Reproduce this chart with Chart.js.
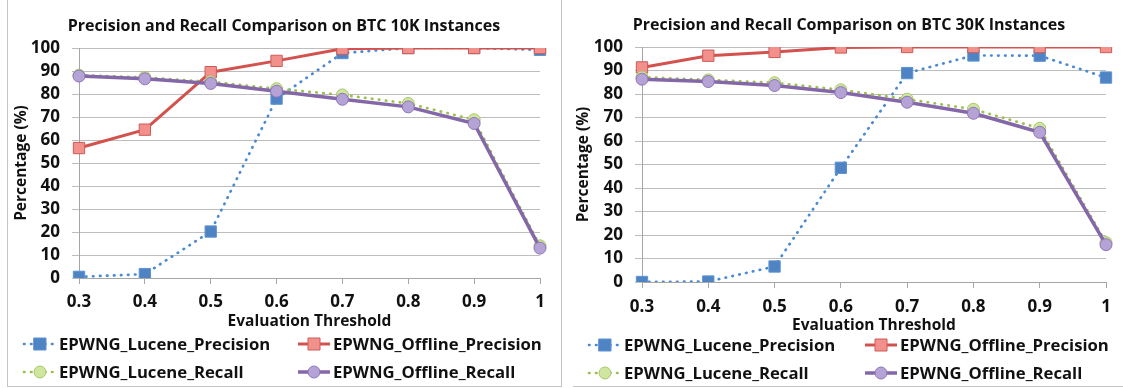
<!DOCTYPE html>
<html>
<head>
<meta charset="utf-8">
<script src="https://cdn.jsdelivr.net/npm/chart.js@4.4.1/dist/chart.umd.min.js"></script>
<style>
  body { margin: 0; background: #fff; }
  #wrap { position: relative; width: 1123px; height: 388px; overflow: hidden; }
  canvas { position: absolute; top: 0; }
  .ln { position: absolute; background: #c4c4c4; }
</style>
</head>
<body>
<div id="wrap">
  <div class="ln" style="left:7px;top:0;width:1px;height:387px"></div>
  <div class="ln" style="left:561px;top:0;width:1px;height:387px"></div>
  <div class="ln" style="left:7px;top:386px;width:555px;height:1px"></div>
  <div class="ln" style="left:573px;top:386px;width:550px;height:1px"></div>
  <canvas id="c10k" width="561" height="388" style="left:0"></canvas>
  <canvas id="c30k" width="562" height="388" style="left:561px"></canvas>
</div>
<script>
// thresholds on the x axis
const thresholds = ['0.3', '0.4', '0.5', '0.6', '0.7', '0.8', '0.9', '1'];
const seriesNames = ['EPWNG_Lucene_Precision', 'EPWNG_Offline_Precision', 'EPWNG_Lucene_Recall', 'EPWNG_Offline_Recall'];

// BTC 10K
const lucenePrecision10k = [0.5, 1.7, 20.2, 78, 97.8, 100, 100, 99.2];
const offlinePrecision10k = [56.5, 64.5, 89.5, 94.4, 99.7, 100, 100, 100];
const luceneRecall10k = [88.2, 87.2, 85.3, 82.3, 79.6, 75.9, 68.8, 14];
const offlineRecall10k = [87.8, 86.6, 84.6, 81.2, 77.7, 74.4, 67.2, 13];

// BTC 30K
const lucenePrecision30k = [0, 0.2, 6.6, 48.6, 88.9, 96.4, 96.3, 87];
const offlinePrecision30k = [91.3, 96.3, 97.9, 99.8, 100, 100, 100, 100];
const luceneRecall30k = [87.2, 86, 84.8, 81.8, 77.8, 73.5, 65.4, 16.8];
const offlineRecall30k = [86.3, 85.3, 83.6, 80.6, 76.5, 71.8, 63.7, 15.9];

const FONT = '"Open Sans", Lato, sans-serif';

function makeSets(lp, op, lr, orc) {
  return [
    { label: seriesNames[0], data: lp, order: 3,
      borderColor: '#4a8ad3', borderWidth: 2.7, borderDash: [0.5, 6.5], borderCapStyle: 'round',
      pointStyle: 'rect', pointRadius: 8, pointBackgroundColor: '#4f84c4', pointBorderColor: '#5d93d4', pointBorderWidth: 1 },
    { label: seriesNames[1], data: op, order: 2,
      borderColor: '#d3524e', borderWidth: 3,
      pointStyle: 'rect', pointRadius: 8, pointBackgroundColor: '#f2908c', pointBorderColor: '#cf5a56', pointBorderWidth: 1 },
    { label: seriesNames[2], data: lr, order: 1,
      borderColor: '#9cbf4f', borderWidth: 2.7, borderDash: [0.5, 6.5], borderCapStyle: 'round',
      pointStyle: 'circle', pointRadius: 6, pointBackgroundColor: '#cfe5a0', pointBorderColor: '#a9c86a', pointBorderWidth: 1 },
    { label: seriesNames[3], data: orc, order: 0,
      borderColor: '#8467a8', borderWidth: 3.5,
      pointStyle: 'circle', pointRadius: 6, pointBackgroundColor: '#b5a3d6', pointBorderColor: '#8e74b8', pointBorderWidth: 1 }
  ];
}

// two-column legend drawn under the x axis
const gridLegend = {
  id: 'gridLegend',
  afterDraw(chart, args, opts) {
    const ctx = chart.ctx;
    const sets = chart.data.datasets;
    ctx.save();
    sets.forEach((ds, i) => {
      const x0 = opts.cols[i % 2];
      const y = opts.rows[Math.floor(i / 2)];
      ctx.strokeStyle = ds.borderColor;
      ctx.lineWidth = ds.borderWidth;
      ctx.lineCap = ds.borderCapStyle || 'butt';
      ctx.setLineDash(ds.borderDash || []);
      ctx.beginPath();
      ctx.moveTo(x0, y);
      ctx.lineTo(x0 + 32, y);
      ctx.stroke();
      ctx.setLineDash([]);
      ctx.fillStyle = ds.pointBackgroundColor;
      ctx.strokeStyle = ds.pointBorderColor;
      ctx.lineWidth = 1;
      ctx.beginPath();
      if (ds.pointStyle === 'rect') {
        ctx.rect(x0 + 10, y - 6, 12, 12);
      } else {
        ctx.arc(x0 + 16, y, 6, 0, Math.PI * 2);
      }
      ctx.fill();
      ctx.stroke();
      ctx.fillStyle = '#111';
      ctx.font = 'bold 16.7px ' + FONT;
      ctx.textBaseline = 'middle';
      ctx.fillText(ds.label, x0 + 35, y + 1);
    });
    ctx.restore();
  }
};

function makeChart(id, titleText, sets, lay) {
  return new Chart(document.getElementById(id), {
    type: 'line',
    data: { labels: thresholds, datasets: sets },
    plugins: [gridLegend],
    options: {
      responsive: false,
      animation: false,
      events: [],
      layout: { padding: { left: lay.padLeft, right: lay.padRight, top: 0, bottom: lay.padBottom } },
      elements: { line: { tension: 0 } },
      plugins: {
        legend: { display: false },
        tooltip: { enabled: false },
        title: {
          display: true, text: titleText, color: '#111',
          font: { family: FONT, size: 16, weight: 'bold', lineHeight: 1.2 },
          padding: { top: lay.titleTop, bottom: lay.titleBottom }
        },
        gridLegend: { cols: lay.legendCols, rows: lay.legendRows }
      },
      scales: {
        x: {
          type: 'category', offset: false,
          grid: { drawOnChartArea: false, drawTicks: true, tickLength: 6, color: '#a6a6a6' },
          border: { display: true, color: '#a6a6a6' },
          ticks: { color: '#111', padding: lay.xTickPad, maxRotation: 0, autoSkip: false,
                   font: { family: FONT, size: 17, weight: 'bold' } },
          title: { display: true, text: 'Evaluation Threshold', color: '#111', padding: 0,
                   font: { family: FONT, size: 15.5, weight: 'bold', lineHeight: 1.2 } },
          afterFit(s) { s.height = lay.xHeight; }
        },
        y: {
          min: 0, max: 100,
          grid: { color: '#bdbdbd', tickLength: 7, lineWidth: 1 },
          border: { display: true, color: '#a6a6a6' },
          ticks: { stepSize: 10, autoSkip: false, color: '#111', padding: 12,
                   font: { family: FONT, size: 17, weight: 'bold' } },
          title: { display: true, text: 'Percentage (%)', color: '#111', padding: { top: lay.yTitleShift, bottom: 0 },
                   font: { family: FONT, size: 15.5, weight: 'bold', lineHeight: 1.2 } },
          afterFit(s) { s.width = lay.yWidth; }
        }
      }
    }
  });
}

makeChart('c10k', 'Precision and Recall Comparison on BTC 10K Instances',
  makeSets(lucenePrecision10k, offlinePrecision10k, luceneRecall10k, offlineRecall10k),
  { padLeft: 28, padRight: 21, padBottom: 57, yWidth: 51, xHeight: 53, xTickPad: 8, yTitleShift: -16,
    titleTop: 17, titleBottom: 11.8, legendCols: [24, 298], legendRows: [344, 372] });

makeChart('c30k', 'Precision and Recall Comparison on BTC 30K Instances',
  makeSets(lucenePrecision30k, offlinePrecision30k, luceneRecall30k, offlineRecall30k),
  { padLeft: 31, padRight: 17, padBottom: 53, yWidth: 50, xHeight: 53, xTickPad: 9, yTitleShift: -18,
    titleTop: 16, titleBottom: 11.8, legendCols: [28, 304], legendRows: [345, 373] });
</script>
</body>
</html>
